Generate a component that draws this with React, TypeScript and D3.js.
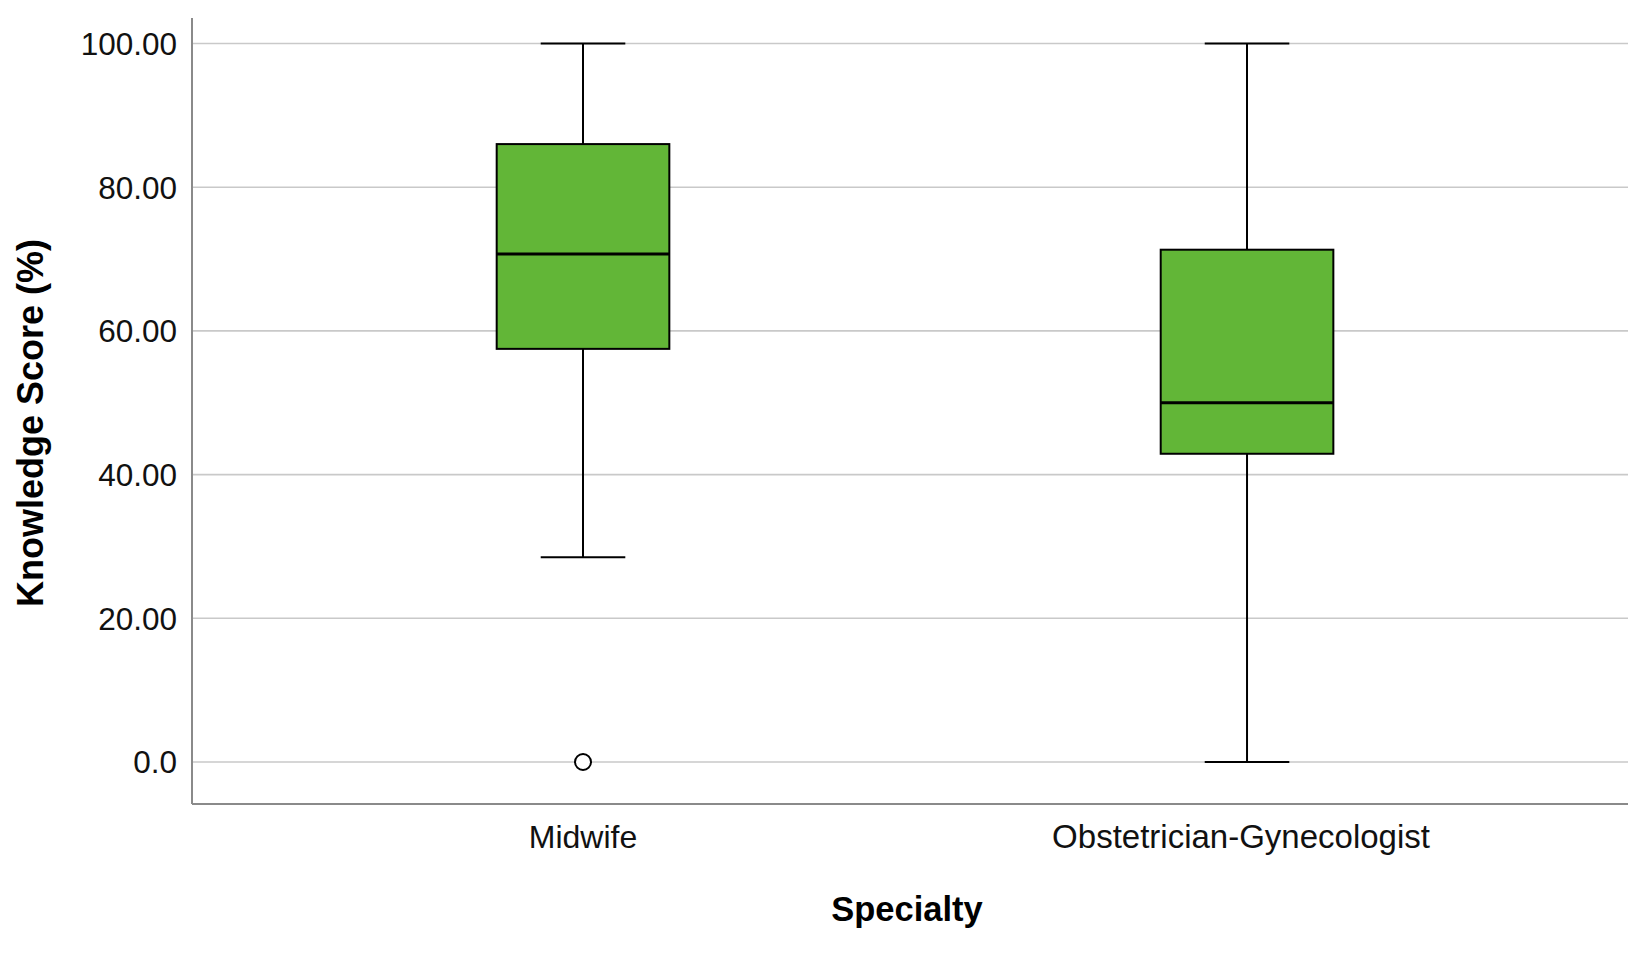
import React from "react";
import * as d3 from "d3";

const categories = ["Midwife", "Obstetrician-Gynecologist"];
const whiskerLow = [28.5, 0];
const q1 = [57.5, 42.9];
const median = [70.7, 50.0];
const q3 = [86.0, 71.3];
const whiskerHigh = [100, 100];
const outliers: number[][] = [[0], []];
const yTicks = [0, 20, 40, 60, 80, 100];
const yTickLabels = ["0.0", "20.00", "40.00", "60.00", "80.00", "100.00"];

const W = 1635;
const H = 962;
const left = 192;
const right = 1628;
const top = 18;
const bottom = 804;
const FONT = "'Liberation Sans', Arial, Helvetica, sans-serif";
const GREEN = "#62b637";

export default function App() {
  const x = d3
    .scalePoint<string>()
    .domain(categories)
    .range([left, right])
    .padding(0.5813)
    .align(0.5065);
  const y = d3.scaleLinear().domain([0, 100]).range([762, 43.5]);
  const step = x.step();
  const boxW = step * 0.26;
  const capW = boxW * 0.49;

  return (
    <svg
      width={W}
      height={H}
      style={{ position: "absolute", left: 0, top: 0, background: "#fff" }}
    >
      <rect x={0} y={0} width={W} height={H} fill="#fff" />
      {yTicks.map((t) => (
        <line
          key={"g" + t}
          x1={left}
          x2={right}
          y1={y(t)}
          y2={y(t)}
          stroke="#c9c9c9"
          strokeWidth={1.6}
        />
      ))}
      {yTicks.map((t, i) => (
        <text
          key={"t" + t}
          x={177}
          y={y(t)}
          dy="0.36em"
          textAnchor="end"
          fontFamily={FONT}
          fontSize={31.5}
          fill="#111"
        >
          {yTickLabels[i]}
        </text>
      ))}
      <line x1={left} x2={left} y1={top} y2={bottom} stroke="#8a8a8a" strokeWidth={2} />
      <line x1={left} x2={right} y1={bottom} y2={bottom} stroke="#8a8a8a" strokeWidth={2} />
      {categories.map((c, i) => {
        const cx = x(c) as number;
        return (
          <g key={c}>
            <line x1={cx} x2={cx} y1={y(whiskerHigh[i])} y2={y(q3[i])} stroke="#000" strokeWidth={2} />
            <line x1={cx} x2={cx} y1={y(q1[i])} y2={y(whiskerLow[i])} stroke="#000" strokeWidth={2} />
            <line x1={cx - capW / 2} x2={cx + capW / 2} y1={y(whiskerHigh[i])} y2={y(whiskerHigh[i])} stroke="#000" strokeWidth={2} />
            <line x1={cx - capW / 2} x2={cx + capW / 2} y1={y(whiskerLow[i])} y2={y(whiskerLow[i])} stroke="#000" strokeWidth={2} />
            <rect
              x={cx - boxW / 2}
              y={y(q3[i])}
              width={boxW}
              height={y(q1[i]) - y(q3[i])}
              fill={GREEN}
              stroke="#000"
              strokeWidth={2}
            />
            <line x1={cx - boxW / 2} x2={cx + boxW / 2} y1={y(median[i])} y2={y(median[i])} stroke="#000" strokeWidth={3} />
            {outliers[i].map((o, j) => (
              <circle key={j} cx={cx} cy={y(o)} r={8} fill="#fff" stroke="#000" strokeWidth={2} />
            ))}
            <text
              x={cx - (i === 1 ? 6 : 0)}
              y={848}
              textAnchor="middle"
              fontFamily={FONT}
              fontSize={i === 1 ? 33 : 32}
              fill="#111"
            >
              {c}
            </text>
          </g>
        );
      })}
      <text
        x={907}
        y={921}
        textAnchor="middle"
        fontFamily={FONT}
        fontSize={34.5}
        fontWeight="bold"
        fill="#000"
      >
        Specialty
      </text>
      <text
        transform="translate(43,423) rotate(-90)"
        textAnchor="middle"
        fontFamily={FONT}
        fontSize={36}
        fontWeight="bold"
        fill="#000"
      >
        Knowledge Score (%)
      </text>
    </svg>
  );
}
